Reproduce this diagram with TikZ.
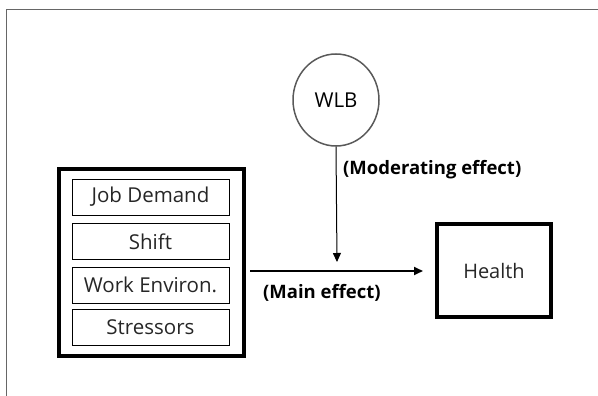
\documentclass[tikz,border=0pt]{standalone}
\usepackage{fontspec}
\setmainfont{Open Sans}
\usetikzlibrary{arrows.meta,shapes.geometric}
\begin{document}
\begin{tikzpicture}[x=1pt,y=-1pt,
  item/.style={draw,line width=1pt,minimum width=157pt,minimum height=36pt,inner sep=0pt,font=\fontsize{20.5}{22}\selectfont,text=black!85},
  thickbox/.style={draw,line width=3.5pt,inner sep=0pt},
  lbl/.style={font=\bfseries\fontsize{18.5}{20}\selectfont,inner sep=0pt,anchor=west},
  arr/.style={-{Triangle[length=9pt,width=8pt]}}]
\useasboundingbox (0,0) rectangle (598,396);
\draw[black!60,line width=1pt] (6,396) -- (6,10) -- (598,10);
\node[thickbox,minimum width=185pt,minimum height=187pt] (outer) at (151.5,262.5) {};
\node[item] (jd) at (150.5,197) {Job Demand};
\node[item] (sh) at (150.5,241.5) {Shift};
\node[item] (we) at (150.5,285) {Work Environ.};
\node[item] (st) at (150.5,327.5) {Stressors};
\node[thickbox,minimum width=114pt,minimum height=93pt,font=\fontsize{20}{22}\selectfont,text=black!85] (health) at (494,270.5) {Health};
\node[ellipse,draw=black!65,line width=1.5pt,minimum width=86pt,minimum height=92pt,inner sep=0pt,font=\fontsize{20.5}{22}\selectfont] (wlb) at (336,100) {WLB};
\coordinate (ms) at (250,271);
\coordinate (me) at (423,271);
\coordinate (vt) at (337,262);
\draw[arr,line width=1.8pt] (ms) -- (me);
\draw[arr,line width=1pt] (wlb.south) -- (vt);
\node[lbl] (mod) at (343,170) {(Moderating effect)};
\node[lbl] (main) at (263,293) {(Main effect)};
\end{tikzpicture}
\end{document}
